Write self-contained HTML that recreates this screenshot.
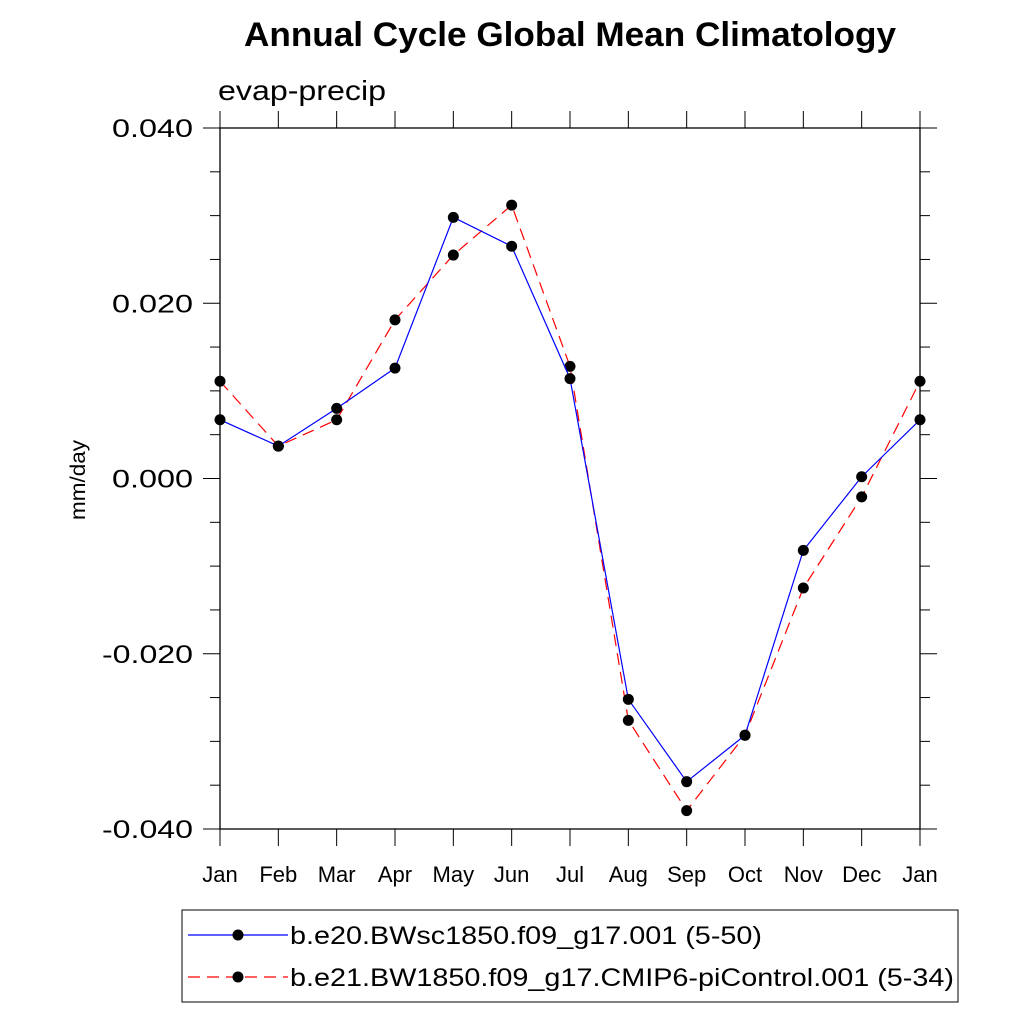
<!DOCTYPE html>
<html><head><meta charset="utf-8"><style>body{margin:0;background:#fff}svg{font-family:"Liberation Sans",sans-serif}</style></head>
<body>
<svg id="c" width="1024" height="1024">
<text x="244" y="46" font-size="34" font-weight="bold" textLength="652" lengthAdjust="spacingAndGlyphs">Annual Cycle Global Mean Climatology</text>
<text x="218" y="100" font-size="28" textLength="168" lengthAdjust="spacingAndGlyphs">evap-precip</text>
<text transform="translate(85,480) rotate(-90)" x="-40" font-size="21" textLength="80" lengthAdjust="spacingAndGlyphs">mm/day</text>
<rect x="220" y="128" width="700" height="701" fill="none" stroke="#000" stroke-width="1.3"/>
<g id="ax"></g><g id="series"></g>
<rect x="182" y="910" width="776" height="92" fill="none" stroke="#000" stroke-width="1"/>
<g>
<line x1="188" y1="935" x2="288" y2="935" stroke="#00f" stroke-width="1.2"/><circle cx="238" cy="935" r="5.5"/>
<text x="290" y="944" font-size="25" textLength="472" lengthAdjust="spacingAndGlyphs">b.e20.BWsc1850.f09_g17.001 (5-50)</text></g>
<g>
<line x1="188" y1="977" x2="288" y2="977" stroke="#f00" stroke-width="1.2" stroke-dasharray="12,7"/><circle cx="238" cy="977" r="5.5"/>
<text x="290" y="986" font-size="25" textLength="664" lengthAdjust="spacingAndGlyphs">b.e21.BW1850.f09_g17.CMIP6-piControl.001 (5-34)</text></g>
</svg>
<script>
const months=["Jan","Feb","Mar","Apr","May","Jun","Jul","Aug","Sep","Oct","Nov","Dec","Jan"];
const blueVals=[0.0067,0.0037,0.0080,0.0126,0.0298,0.0265,0.0114,-0.0252,-0.0346,-0.0293,-0.0082,0.0002,0.0067];
const redVals=[0.0111,0.0037,0.0067,0.0181,0.0255,0.0312,0.0128,-0.0276,-0.0379,-0.0293,-0.0125,-0.0021,0.0111];
const yTicks=["0.040","0.020","0.000","-0.020","-0.040"];
const NS="http://www.w3.org/2000/svg";
const X=i=>220+i*700/12, Y=v=>478.5-v*701/0.08;
function mk(t,a,p){const e=document.createElementNS(NS,t);for(const k in a)e.setAttribute(k,a[k]);p.appendChild(e);return e;}
const ax=document.getElementById('ax'),sr=document.getElementById('series');
months.forEach((m,i)=>{const x=X(i);
mk('line',{x1:x,y1:829,x2:x,y2:846,stroke:'#000'},ax);mk('line',{x1:x,y1:128,x2:x,y2:111,stroke:'#000'},ax);
const t=mk('text',{x:x,y:882,'text-anchor':'middle','font-size':22},ax);t.textContent=m;

});
for(let k=0;k<=16;k++){const v=0.04-k*0.005,y=Y(v),maj=k%4==0,L=maj?17:10;
mk('line',{x1:220-L,y1:y,x2:220,y2:y,stroke:'#000'},ax);mk('line',{x1:920,y1:y,x2:920+L,y2:y,stroke:'#000'},ax);
if(maj){const s=yTicks[k/4];const w=s.length==5?81:91;
const t=mk('text',{x:193-w,y:y+9,'font-size':25,textLength:w,lengthAdjust:'spacingAndGlyphs'},ax);t.textContent=s;

}}
function draw(vals,col,dash,name){const g=mk('g',{},sr);


mk('polyline',{points:vals.map((v,i)=>X(i)+','+Y(v)).join(' '),fill:'none',stroke:col,'stroke-width':1.2,'stroke-dasharray':dash},g);
vals.forEach((v,i)=>{const c=mk('circle',{cx:X(i),cy:Y(v),r:5.5},g);

});}
draw(redVals,'#f00','12,7','series-red');
draw(blueVals,'#00f','none','series-blue');
</script>
</body></html>
